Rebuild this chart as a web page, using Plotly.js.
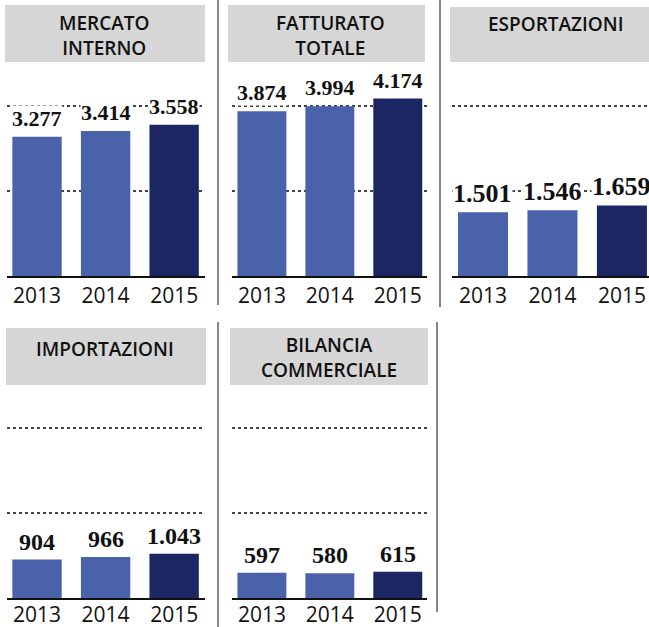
<!DOCTYPE html>
<html>
<head>
<meta charset="utf-8">
<script src="https://cdn.plot.ly/plotly-3.0.1.min.js"></script>
<style>html,body{margin:0;padding:0;background:#fff;}#chart{width:649px;height:627px;}</style>
</head>
<body>
<div id="chart"></div>
<script>
// ---- data ----
const years = ['2013', '2014', '2015'];
const mercatoInterno = [3277, 3414, 3558];
const fatturatoTotale = [3874, 3994, 4174];
const esportazioni = [1501, 1546, 1659];
const importazioni = [904, 966, 1043];
const bilanciaCommerciale = [597, 580, 615];
const panelTitles = ['MERCATO<br>INTERNO', 'FATTURATO<br>TOTALE', 'ESPORTAZIONI', 'IMPORTAZIONI', 'BILANCIA<br>COMMERCIALE'];
const gridValues = [2000, 4000];

// ---- styling / layout helpers ----
const W = 649, H = 627;
const px = v => v / W;
const py = v => (H - v) / H;
const LIGHT = '#4a62aa', DARK = '#1c2662';
const barColors = [LIGHT, LIGHT, DARK];
const fmt = n => String(n).replace(/\B(?=(\d{3})+(?!\d))/g, '.');

const series = [mercatoInterno, fatturatoTotale, esportazioni, importazioni, bilanciaCommerciale];
const panels = [
  {x0: 7,   x1: 205, xr: [-0.438, 2.45], row: 0, box: [5, 5, 205, 62],    tx: 104, ty: 36, vs: 22, ys: 5},
  {x0: 232, x1: 427, xr: [-0.44, 2.43],  row: 0, box: [228, 5, 425, 62],  tx: 330, ty: 36, vs: 22, ys: 5},
  {x0: 452, x1: 649, xr: [-0.446, 2.39], row: 0, box: [450, 7, 649, 62],  tx: 556, ty: 24, vs: 26, ys: 3},
  {x0: 7,   x1: 205, xr: [-0.438, 2.45], row: 1, box: [6, 328, 206, 385], tx: 105, ty: 349, vs: 24, ys: 4},
  {x0: 232, x1: 427, xr: [-0.44, 2.43],  row: 1, box: [230, 328, 428, 385], tx: 329, ty: 357, vs: 24, ys: 4}
];
const rows = [{base: 276, top: 66, standoff: 0}, {base: 598, top: 388, standoff: -3}];
const scale = 85 / 2000; // px per unit

const data = [];
const layout = {
  width: W, height: H,
  margin: {l: 0, r: 0, t: 0, b: 0},
  paper_bgcolor: '#fff', plot_bgcolor: 'rgba(0,0,0,0)',
  showlegend: false,
  shapes: [], annotations: []
};

panels.forEach((p, i) => {
  const n = i === 0 ? '' : String(i + 1);
  const r = rows[p.row];
  const ymax = (r.base - r.top) / scale;
  data.push({
    type: 'bar', x: years, y: series[i],
    xaxis: 'x' + n, yaxis: 'y' + n,
    marker: {color: barColors, line: {width: 0}},
    width: 0.72, hoverinfo: 'skip'
  });
  layout['xaxis' + n] = {
    domain: [px(p.x0), px(p.x1)], anchor: 'y' + n,
    type: 'category', range: p.xr,
    showgrid: false, zeroline: false, ticks: '',
    showline: true, linecolor: '#111', linewidth: 1.6, layer: 'above traces',
    ticklabelstandoff: r.standoff,
    tickfont: {family: 'Open Sans, sans-serif', size: 21, color: '#111'},
    fixedrange: true
  };
  layout['yaxis' + n] = {
    domain: [py(r.base), py(r.top)], anchor: 'x' + n,
    range: [0, ymax], tickvals: gridValues, showticklabels: false,
    showgrid: true, gridcolor: '#444', griddash: 'dot', gridwidth: 1.2,
    zeroline: false, fixedrange: true
  };
  // title box
  layout.shapes.push({
    type: 'rect', xref: 'paper', yref: 'paper', layer: 'below',
    x0: px(p.box[0]), x1: px(p.box[2]), y0: py(p.box[3]), y1: py(p.box[1]),
    fillcolor: '#d6d6d6', line: {width: 0}
  });
  layout.annotations.push({
    xref: 'paper', yref: 'paper', x: px(p.tx), y: py(p.ty),
    xanchor: 'center', yanchor: 'middle', showarrow: false,
    text: panelTitles[i], align: 'center',
    font: {family: 'Open Sans, sans-serif', size: 19, weight: 600, color: '#111'}
  });
  // value labels
  series[i].forEach((v, k) => {
    layout.annotations.push({
      xref: 'x' + n, yref: 'y' + n, x: k, y: v,
      xanchor: 'center', yanchor: 'bottom', yshift: p.ys, showarrow: false,
      text: '<b>' + fmt(v) + '</b>', bgcolor: '#fff', borderpad: 0,
      font: {family: 'Liberation Serif, serif', size: p.vs, color: '#111'}
    });
  });
});

// panel separators
[[218, 0, 218, 305], [218, 322, 218, 627], [440, 0, 440, 307], [437, 322, 437, 612]].forEach(s => {
  layout.shapes.push({
    type: 'line', xref: 'paper', yref: 'paper',
    x0: px(s[0]), x1: px(s[2]), y0: py(s[1]), y1: py(s[3]),
    line: {color: '#555', width: 1.4}
  });
});

Plotly.newPlot('chart', data, layout, {displayModeBar: false, staticPlot: true});
</script>
</body>
</html>
